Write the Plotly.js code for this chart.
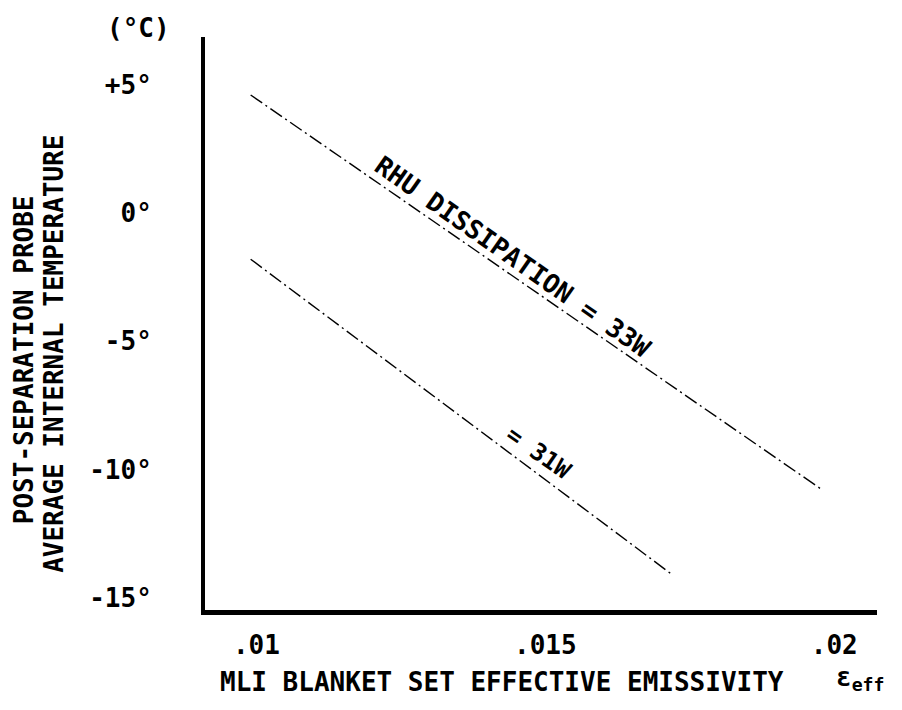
<!DOCTYPE html>
<html>
<head>
<meta charset="utf-8">
<script src="https://cdn.plot.ly/plotly-3.0.1.min.js"></script>
<style>html,body{margin:0;padding:0;background:#fff;}#chart{width:902px;height:710px;}</style>
</head>
<body>
<div id="chart"></div>
<script>
// Data
const emissivity33 = [0.0099, 0.0198];
const temp33 = [4.6, -10.8];
const emissivity31 = [0.0099, 0.0172];
const temp31 = [-1.8, -14.1];

const yTickVals = [5, 0, -5, -10, -15];
const yTickText = ['+5°', '0°', '-5°', '-10°', '-15°'];
const xTickVals = [0.01, 0.015, 0.02];
const xTickText = ['.01', '.015', '.02'];

const FONT = 'DejaVu Sans Mono, Liberation Mono, monospace';

const lineStyle = {color: '#000', width: 1.4, dash: '14px,4px,2px,4px'};

const traces = [
  {x: emissivity33, y: temp33, mode: 'lines', line: lineStyle, showlegend: false, hoverinfo: 'skip'},
  {x: emissivity31, y: temp31, mode: 'lines', line: lineStyle, showlegend: false, hoverinfo: 'skip'}
];

const f = (s) => ({family: FONT, size: s, color: '#000', weight: 'bold'});

const layout = {
  width: 902, height: 710,
  margin: {l: 205, r: 25, t: 37, b: 100},
  paper_bgcolor: '#fff', plot_bgcolor: '#fff',
  font: f(26),
  xaxis: {
    range: [0.00911, 0.02074],
    showgrid: false, zeroline: false,
    showline: true, linecolor: '#000', linewidth: 5,
    tickvals: xTickVals, ticktext: xTickText,
    ticks: '', tickfont: f(26), ticklabelstandoff: 8
  },
  yaxis: {
    range: [-15.47, 6.86],
    showgrid: false, zeroline: false,
    showline: true, linecolor: '#000', linewidth: 4,
    tickvals: yTickVals, ticktext: yTickText,
    ticks: '', tickfont: f(26), ticklabelstandoff: 44
  },
  annotations: [
    {x: 0.01444, y: -1.72, xref: 'x', yref: 'y', text: 'RHU DISSIPATION = 33W', showarrow: false,
     textangle: 35, font: f(26), xanchor: 'center', yanchor: 'middle'},
    {x: 0.01489, y: -9.36, xref: 'x', yref: 'y', text: '= 31W', showarrow: false,
     textangle: 35, font: f(24), xanchor: 'center', yanchor: 'middle'},
    {x: -0.0997, y: 1.0157, xref: 'paper', yref: 'paper', text: '(°C)', showarrow: false,
     font: f(26), xanchor: 'center', yanchor: 'middle'},
    {x: -0.2693, y: 0.436, xref: 'paper', yref: 'paper', text: 'POST-SEPARATION PROBE', showarrow: false,
     textangle: -90, font: f(26), xanchor: 'center', yanchor: 'middle'},
    {x: -0.2247, y: 0.447, xref: 'paper', yref: 'paper', text: 'AVERAGE INTERNAL TEMPERATURE', showarrow: false,
     textangle: -90, font: f(26), xanchor: 'center', yanchor: 'middle'},
    {x: 0.442, y: -0.1257, xref: 'paper', yref: 'paper', text: 'MLI BLANKET SET EFFECTIVE EMISSIVITY', showarrow: false,
     font: f(26), xanchor: 'center', yanchor: 'middle'},
    {x: 0.976, y: -0.12, xref: 'paper', yref: 'paper', text: 'ε<sub>eff</sub>', showarrow: false,
     font: {family: FONT, size: 26, color: '#000'}, xanchor: 'center', yanchor: 'middle'}
  ]
};

Plotly.newPlot('chart', traces, layout, {staticPlot: true, displayModeBar: false});
</script>
</body>
</html>
